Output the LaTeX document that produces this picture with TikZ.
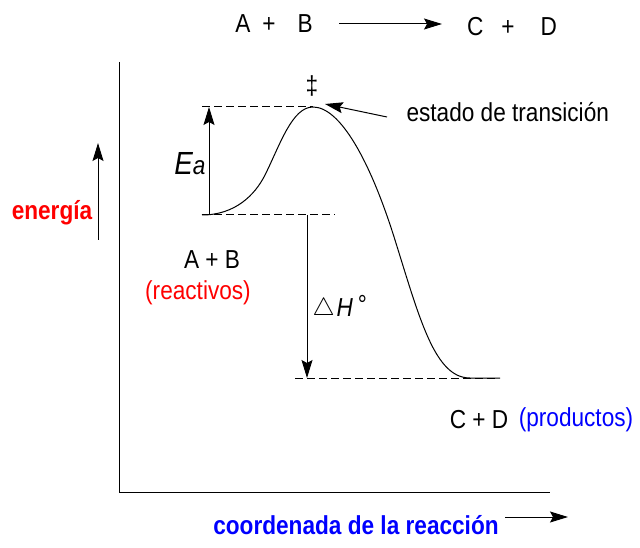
\documentclass[tikz,border=0pt]{standalone}
\usepackage{fontspec}
\setmainfont{Liberation Sans}[FakeStretch=0.87]
\usetikzlibrary{arrows.meta}
\definecolor{rojo}{RGB}{255,0,0}
\definecolor{azul}{RGB}{0,0,255}

\begin{document}
\begin{tikzpicture}[x=1pt,y=-1pt,line width=1pt,
  every node/.style={font=\fontsize{26}{30}\selectfont,inner sep=0pt},
  flecha/.style={-{Stealth[length=18pt,width=11pt,inset=3pt]}},
  nivel/.style={dash pattern=on 8pt off 4pt}]
\useasboundingbox (0,0) rectangle (640,548);

% reaccion de arriba
\node (ab) at (274,24) {A\hspace{12pt}+\hspace{22pt}B};
\node (cd) at (512,27) {C\hspace{18pt}+\hspace{26pt}D};
\coordinate (r1) at (339,24);
\coordinate (r2) at (442,24);
\draw[flecha] (r1) -- (r2);

% ejes
\coordinate (ejetop) at (119,62);
\coordinate (origen) at (119,492);
\coordinate (ejeder) at (550,492);
\draw (ejetop) -- (origen) -- (ejeder);

\coordinate (e1) at (98,240);
\coordinate (e2) at (98,143);
\draw[flecha] (e1) -- (e2);
\node[text=rojo,font=\fontsize{26}{30}\selectfont\bfseries] (energia) at (52,213) {energía};

\coordinate (c1) at (505,517);
\coordinate (c2) at (568,517);
\draw[flecha] (c1) -- (c2);
\node[text=azul,font=\fontsize{26}{30}\selectfont\bfseries] (coord) at (356,525) {coordenada de la reacción};

% niveles
\coordinate (reac) at (202,215);
\coordinate (pico) at (313,107);
\coordinate (prod) at (470,378);
\draw[nivel] (reac) -- (335,215);
\draw[nivel] (202,107) -- (pico);
\draw[nivel] (295,378) -- (495,378);

% curva
\draw (reac) .. controls (235,215) and (255,195) .. (265,175)
  .. controls (280,145) and (292,107) .. (pico)
  .. controls (340,107) and (370,160) .. (395,240)
  .. controls (420,320) and (435,378) .. (prod) -- (500,378);

% Ea y DeltaH
\coordinate (ea1) at (209,215);
\coordinate (ea2) at (209,107);
\draw[flecha] (ea1) -- (ea2);
\node (ea) at (190,164) {{\fontsize{32}{32}\selectfont\itshape E}{\itshape a}};

\coordinate (dh1) at (307,215);
\coordinate (dh2) at (307,378);
\draw[flecha] (dh1) -- (dh2);
\node[anchor=west] (dh) at (312,308) {\raisebox{1pt}{$\triangle$}\hspace{2pt}\textit{H}\hspace{5pt}\raisebox{3pt}{°}};

% estado de transicion
\node (doble) at (312,86) {‡};
\node[anchor=west] (estado) at (406,112) {estado de transición};
\coordinate (t1) at (387,117);
\coordinate (t2) at (325,104);
\draw[flecha] (t1) -- (t2);

% etiquetas
\node (ab2) at (212,260) {A + B};
\node[text=rojo] (reactivos) at (198,293) {(reactivos)};
\node (cd2) at (479,420) {C + D};
\node[text=azul] (productos) at (576,420) {(productos)};
\end{tikzpicture}
\end{document}
